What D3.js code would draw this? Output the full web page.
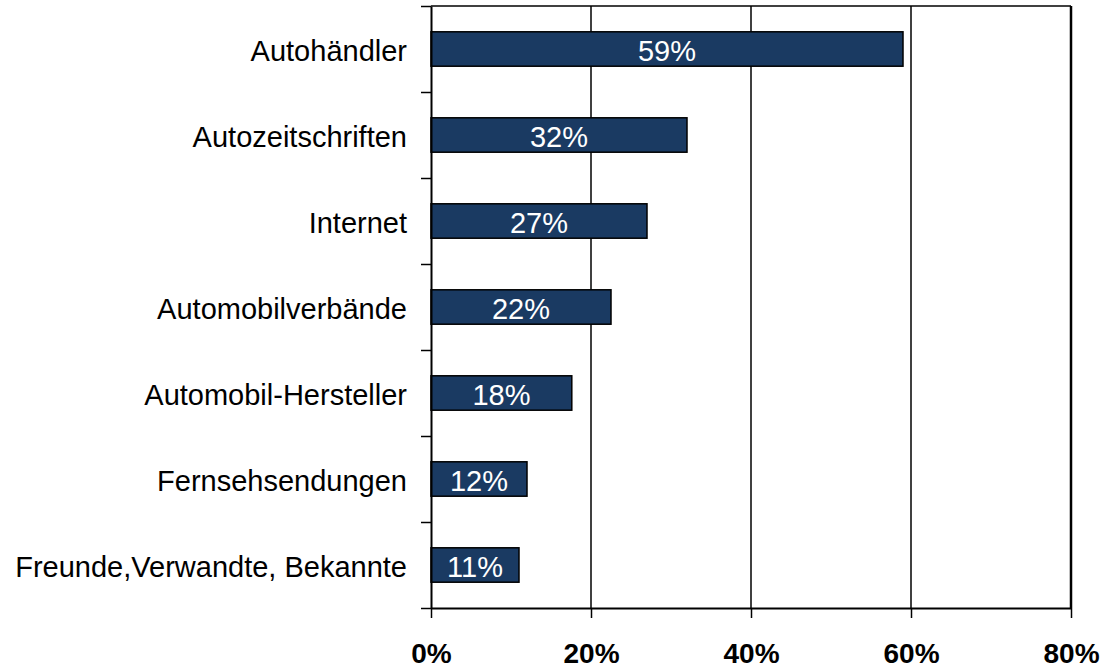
<!DOCTYPE html>
<html>
<head>
<meta charset="utf-8">
<script src="https://cdn.jsdelivr.net/npm/d3@7"></script>
<style>
	body { margin: 0; background: #fff; }
	svg text { font-family: Arial, "Liberation Sans", sans-serif; }
</style>
</head>
<body>
<svg id="chart" width="1117" height="669"></svg>
<script>
// sources of information (share of respondents)
var categories = ['Autohändler', 'Autozeitschriften', 'Internet', 'Automobilverbände', 'Automobil-Hersteller', 'Fernsehsendungen', 'Freunde,Verwandte, Bekannte'];
var values = [0.59, 0.32, 0.27, 0.225, 0.176, 0.12, 0.11];
var valueLabels = ['59%', '32%', '27%', '22%', '18%', '12%', '11%'];
var xTicks = [0, 0.2, 0.4, 0.6, 0.8];

var svg = d3.select('#chart');
var plotLeft = 431, plotRight = 1071, plotTop = 6, plotBottom = 608;

var x = d3.scaleLinear().domain([0, 0.8]).range([plotLeft, plotRight]);
var y = d3.scaleBand().domain(categories).range([plotTop, plotBottom]).paddingInner(0).paddingOuter(0);
var slots = d3.scaleLinear().domain([0, categories.length]).range([plotTop, plotBottom]);
var barH = y.bandwidth() * 0.4;

//gridlines
svg.append('g')
	.selectAll('line')
	.data(xTicks.slice(1))
	.enter().append('line')
	.attr('x1', function(d) { return x(d); })
	.attr('x2', function(d) { return x(d); })
	.attr('y1', plotTop)
	.attr('y2', plotBottom)
	.attr('stroke', '#000')
	.attr('stroke-width', function(d, i) { return i == xTicks.length - 2 ? 2.5 : 1.5; });

//top border
svg.append('line')
	.attr('x1', plotLeft).attr('x2', plotRight)
	.attr('y1', plotTop).attr('y2', plotTop)
	.attr('stroke', '#000').attr('stroke-width', 1.5);

//bars
svg.append('g')
	.selectAll('rect')
	.data(values)
	.enter().append('rect')
	.attr('x', x(0))
	.attr('y', function(d, i) { return y(categories[i]) + (y.bandwidth() - barH) / 2; })
	.attr('width', function(d) { return x(d) - x(0); })
	.attr('height', barH)
	.attr('fill', '#1a3a62')
	.attr('stroke', '#000')
	.attr('stroke-width', 1.5);

//value labels
svg.append('g')
	.selectAll('text')
	.data(values)
	.enter().append('text')
	.attr('x', function(d) { return (x(0) + x(d)) / 2; })
	.attr('y', function(d, i) { return y(categories[i]) + y.bandwidth() / 2 + 12; })
	.attr('text-anchor', 'middle')
	.attr('fill', '#fff')
	.style('font-size', '29px')
	.text(function(d, i) { return valueLabels[i]; });

//left axis with ticks between categories
var yAxis = svg.append('g')
	.attr('transform', 'translate(' + plotLeft + ',0)')
	.call(d3.axisLeft(slots).ticks(categories.length).tickFormat('').tickSizeInner(10).tickSizeOuter(0));
yAxis.select('.domain').attr('stroke-width', 2);
yAxis.selectAll('line').attr('stroke-width', 1.5);

//category labels
var catAxis = svg.append('g')
	.attr('transform', 'translate(' + plotLeft + ',0)')
	.call(d3.axisLeft(y).tickSize(0).tickPadding(24));
catAxis.select('.domain').remove();
catAxis.selectAll('text')
	.attr('dy', '0.43em')
	.attr('fill', '#000')
	.style('font-size', '29px');

//bottom axis
var xAxis = svg.append('g')
	.attr('transform', 'translate(0,' + plotBottom + ')')
	.call(d3.axisBottom(x).tickValues(xTicks).tickFormat(d3.format('.0%')).tickSizeInner(10).tickSizeOuter(0).tickPadding(25));
xAxis.select('.domain').attr('stroke-width', 2);
xAxis.selectAll('line').attr('stroke-width', 1.5);
xAxis.selectAll('text')
	.attr('fill', '#000')
	.style('font-size', '28px')
	.style('font-weight', 'bold');
</script>
</body>
</html>
